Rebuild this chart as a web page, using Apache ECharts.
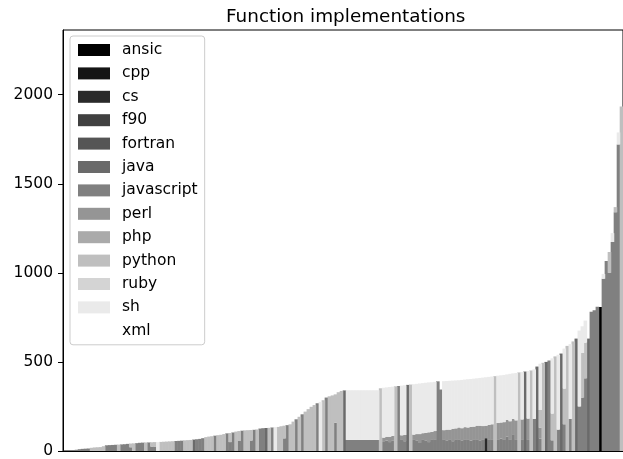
<!DOCTYPE html>
<html><head><meta charset="utf-8">
<script src="https://cdn.jsdelivr.net/npm/echarts@6/dist/echarts.min.js"></script>
<style>html,body{margin:0;padding:0;background:#fff}#c{width:623px;height:459px}</style>
</head><body><div id="c"></div>
<script>
const N = 186;
const languages = ['ansic','cpp','cs','f90','fortran','java','javascript','perl','php','python','ruby','sh','xml'];
const colors = ['#000000','#151515','#2a2a2a','#404040','#555555','#6a6a6a','#808080','#959595','#aaaaaa','#bfbfbf','#d4d4d4','#eaeaea','#ffffff'];
const yTicks = [0, 500, 1000, 1500, 2000];

// dense series (one value per function, functions sorted by total)
const javascript = [
1,3,4,5,7,10,12,13,14,0, 0,0,0,0,32,33,34,35,0,37, 38,40,21,0,44,46,47,0,48,25,
25,0,0,0,0,0,0,56,57,58, 0,0,0,0,66,68,72,0,0,0, 86,0,0,0,99,50,104,0,56,114,
0,0,59,119,0,126,128,0,0,132, 0,0,0,71,145,0,0,178,0,206, 0,0,0,0,268,0,0,300,0,0,
159,0,0,0,62,62,62,62,62,62, 62,62,62,62,62,0,55,58,50,60, 0,365,62,55,0,0,62,60,45,62,
60,50,62,62,391,345,62,60,62,55, 62,62,60,62,62,58,62,62,60,62, 0,62,62,0,62,70,62,80,62,90,
62,0,62,0,62,0,180,0,70,0, 0,508,60,0,120,0,150,0,180,0, 0,250,300,408,0,782,790,810,0,967,
1067,1000,1173,1340,1721,0];
const python = [
0,0,0,0,0,0,0,0,0,18, 20,21,22,27,0,0,0,0,36,0, 0,0,21,43,0,0,0,48,0,24,
25,0,51,52,53,54,55,0,0,0, 60,61,62,0,0,0,0,78,81,83, 0,89,91,95,0,51,0,109,56,0,
116,117,59,0,121,0,0,0,130,0, 0,135,139,71,0,150,165,0,192,0, 221,235,248,258,0,0,285,0,307,312,
159,330,337,0,0,0,0,0,0,0, 0,0,0,0,0,352,0,0,0,0, 363,0,0,0,0,373,0,0,0,0,
0,0,0,0,0,0,0,0,0,0, 0,0,0,0,0,0,0,0,0,0, 0,0,0,420,0,0,0,0,0,0,
0,441,0,0,0,452,0,0,100,495, 0,0,150,531,0,0,200,590,0,615, 0,0,250,200,0,0,0,0,0,0,
0,117,0,29,0,1933];
const sh = [
0,0,0,0,0,0,0,0,0,0, 0,0,0,0,0,0,0,0,0,0, 0,0,0,0,0,0,0,0,0,0,
0,50,0,0,0,0,0,0,0,0, 0,0,0,0,0,0,0,0,0,0, 0,0,0,0,0,0,0,0,0,0,
0,0,0,0,0,0,0,0,0,0, 134,0,0,0,0,0,0,0,0,0, 0,0,0,0,0,276,0,0,0,0,
0,0,0,0,279,279,279,279,279,279, 279,279,279,279,279,0,280,277,279,276, 0,0,279,279,0,0,283,282,284,281,
281,280,279,276,0,0,275,273,274,270, 269,265,271,267,271,268,269,266,268,272, 272,269,268,0,266,265,265,255,266,256,
266,0,266,0,267,0,278,0,260,0, 0,0,310,0,420,0,225,0,420,0, 0,426,150,124,0,0,0,0,0,27,
0,0,50,0,67,0];

// sparse series: [function index, value]
const perl = [[106,20],[107,22],[108,30],[109,25],[112,26],[113,35],[116,30],[117,35],[118,50],[119,38],
[120,42],[121,55],[122,45],[123,50],[126,55],[127,60],[128,58],[129,70],[130,65],[131,70],[132,68],[133,72],
[134,70],[135,78],[136,75],[137,80],[138,82],[139,78],[140,70],[141,85],[142,88],[144,95],[145,90],[146,100],
[147,95],[148,105],[149,90],[150,110],[152,115],[154,120],[158,60]];
const java = [[43,64],[67,129],[93,340],[114,371],[153,446],[157,474],[160,500],[165,547],[170,631],[174,631]];
const cs = [[140,72]];
const ansic = [[178,808]];
const cpp = [], f90 = [], fortran = [], php = [], ruby = [], xml = [];

function dense(v){
  if (v.length === N && !Array.isArray(v[0])) return v;
  const a = new Array(N).fill(0);
  v.forEach(p => { a[p[0]] = p[1]; });
  return a;
}
const seriesData = {ansic, cpp, cs, f90, fortran, java, javascript, perl, php, python, ruby, sh, xml};
const categories = Array.from({length: N}, (_, i) => 'f' + (i + 1));

const FONT = 'DejaVu Sans';
const chart = echarts.init(document.getElementById('c'), null, {renderer: 'canvas'});
chart.setOption({
  animation: false,
  backgroundColor: '#fff',
  title: {text: 'Function implementations', left: 221, top: 3,
    textStyle: {fontFamily: FONT, fontSize: 18.4, fontWeight: 'normal', color: '#000'}},
  grid: {left: 63, right: 0, top: 30, bottom: 6, show: true, borderColor: '#000', borderWidth: 1, backgroundColor: 'transparent'},
  legend: {
    orient: 'vertical', left: 70, top: 36, icon: 'rect', itemWidth: 32, itemHeight: 12, itemGap: 7.4,
    padding: [6, 7, 6, 8], backgroundColor: 'rgba(255,255,255,0.8)', borderColor: '#cccccc', borderWidth: 1, borderRadius: 3,
    textStyle: {fontFamily: FONT, fontSize: 15.5, color: '#000', lineHeight: 15, padding: [0, 0, 0, 7]},
    data: languages, selectedMode: false
  },
  xAxis: {type: 'category', data: categories, axisLine: {lineStyle: {color: '#000', width: 1}},
    axisTick: {show: false}, axisLabel: {show: false}, splitLine: {show: false}},
  yAxis: {type: 'value', min: yTicks[0], max: 2363, interval: 500,
    axisLine: {show: true, lineStyle: {color: '#000', width: 1}},
    axisTick: {show: true, length: 5, lineStyle: {color: '#000'}},
    axisLabel: {color: '#000', fontFamily: FONT, fontSize: 15.5, margin: 10, showMaxLabel: false,
      formatter: v => String(v)},
    splitLine: {show: false}},
  series: languages.map((l, k) => ({
    name: l, type: 'bar', stack: 'total', barWidth: 3.6,
    itemStyle: {color: colors[k]}, emphasis: {disabled: true},
    data: dense(seriesData[l])
  }))
});
</script></body></html>
